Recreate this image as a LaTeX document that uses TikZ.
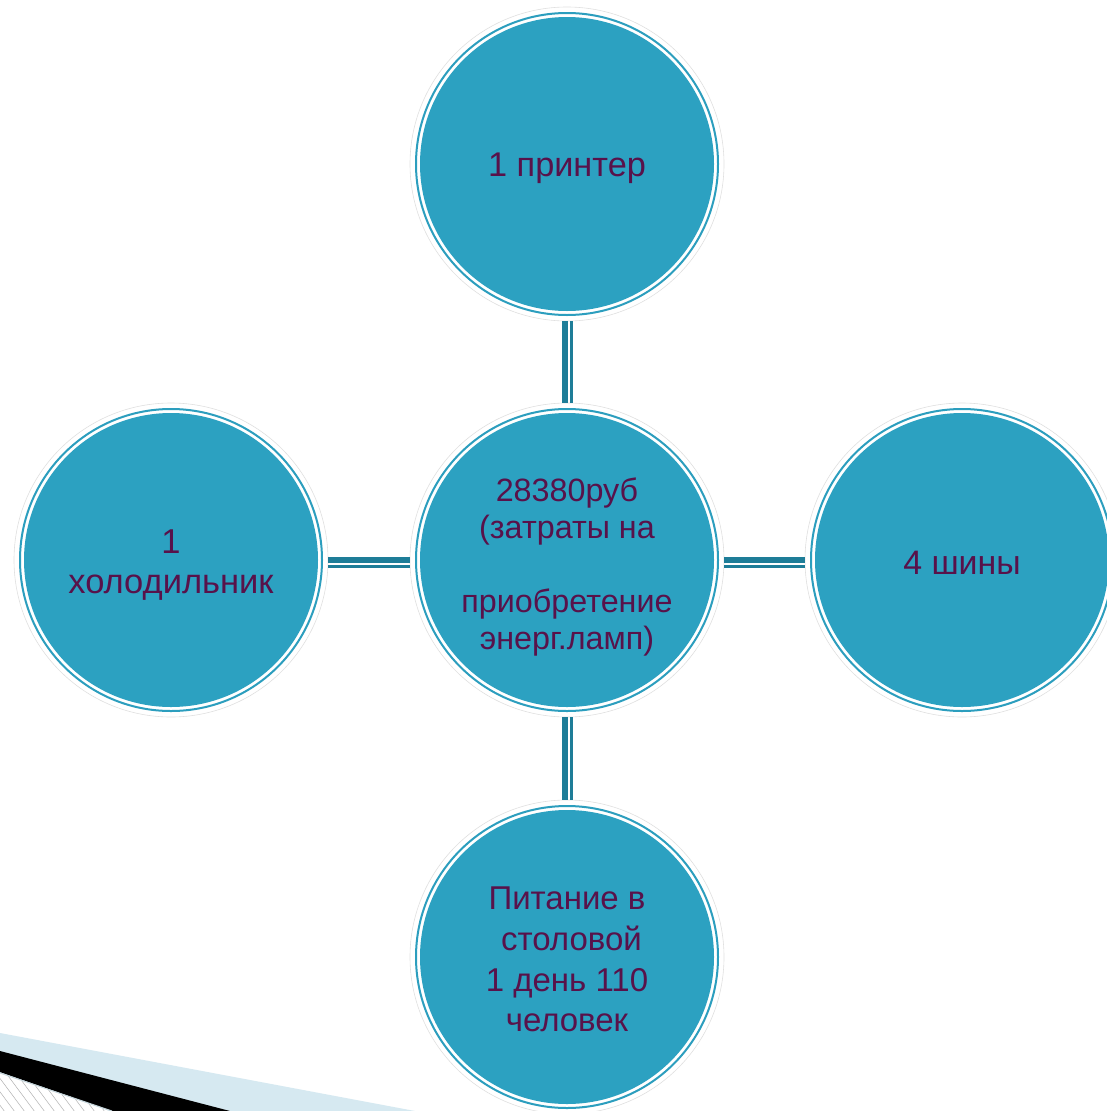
\documentclass[tikz,border=0pt]{standalone}
\usepackage{fontspec}
\setmainfont{Liberation Sans}
\definecolor{bubfill}{RGB}{44,161,193}
\definecolor{ringc}{RGB}{44,158,190}
\definecolor{conc}{RGB}{30,125,152}
\definecolor{txtc}{RGB}{88,18,74}
\definecolor{bandblue}{RGB}{214,233,241}
\newcommand\mybubble[5]{%
  \node[outerc] (#1) at (#2,#3) {};
  \draw[ringc, line width=2pt] (#1.center) circle[radius=151pt];
  \fill[bubfill] (#1.center) circle[radius=147pt];
  \node[txt, #4] (#1-t) at (#1.center) {#5};
}
\begin{document}
\begin{tikzpicture}[x=1pt,y=-1pt,
  outerc/.style={circle, minimum size=314pt, inner sep=0pt, draw=black!12, line width=0.6pt, fill=white},
  txt/.style={text=txtc, align=center, inner sep=0pt},
  thickc/.style={draw=conc, line width=6.5pt},
  thinc/.style={draw=conc, line width=2.8pt},
]
\useasboundingbox (0,0) rectangle (1107,1111);
\fill[white] (0,0) rectangle (1107,1111);

% decoration bottom-left
\fill[bandblue] (0,1033) -- (415,1111) -- (0,1111) -- cycle;
\fill[black] (0,1051) -- (230,1111) -- (112,1111) -- (0,1072) -- cycle;
\begin{scope}
  \clip (0,1073) -- (112,1112) -- (0,1112) -- cycle;
  \fill[white] (0,1060) rectangle (120,1112);
  \foreach \i in {-60,-50,...,120}
    \draw[black!30, line width=0.5pt] (\i,1065) -- ({\i+35},1112);
\end{scope}
\draw[bandblue!80!gray, line width=1pt] (0,1073) -- (112,1111);

\mybubble{top}{567}{164}{font=\fontsize{34.3}{40}\selectfont, yshift=-4pt}{1 принтер}
\mybubble{mid}{567}{560}{font=\fontsize{32.3}{37}\selectfont, yshift=-7pt}{28380руб\\(затраты на\\[37pt]приобретение\\энерг.ламп)}
\mybubble{left}{171}{560}{font=\fontsize{34.5}{40}\selectfont, yshift=-5pt}{1\\холодильник}
\mybubble{right}{962}{560}{font=\fontsize{33.9}{40}\selectfont, yshift=-3pt}{4 шины}
\mybubble{bot}{567}{957}{font=\fontsize{33}{40.6}\selectfont, yshift=-2.5pt}{Питание в\\\hspace*{9pt}столовой\\1 день 110\\человек}

% connectors
\draw[thickc] ([xshift=-2pt]top.south) -- ([xshift=-2pt]mid.north);
\draw[thinc] ([xshift=4.5pt]top.south) -- ([xshift=4.5pt]mid.north);
\draw[thickc] ([xshift=-2pt]mid.south) -- ([xshift=-2pt]bot.north);
\draw[thinc] ([xshift=4.5pt]mid.south) -- ([xshift=4.5pt]bot.north);
\draw[thickc] (left.east) -- (mid.west);
\draw[thinc] ([yshift=-6.5pt]left.east) -- ([yshift=-6.5pt]mid.west);
\draw[thickc] (mid.east) -- (right.west);
\draw[thinc] ([yshift=-6.5pt]mid.east) -- ([yshift=-6.5pt]right.west);
\end{tikzpicture}
\end{document}
